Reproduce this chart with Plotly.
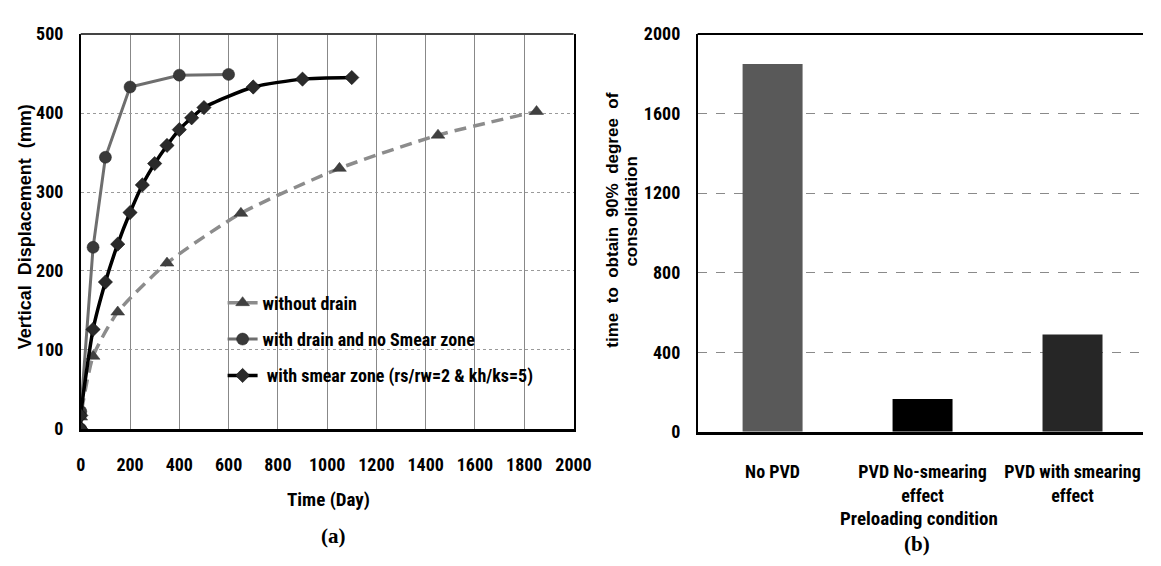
import plotly.graph_objects as go

# ---------------- data: panel (a) ----------------
t_no_drain = [0, 0, 50, 150, 350, 650, 1050, 1450, 1850]
d_no_drain = [0, 15, 92, 148, 210, 273, 330, 372, 402]

t_drain = [0, 0, 50, 100, 200, 400, 600]
d_drain = [0, 22, 230, 344, 433, 448, 449]

t_smear = [0, 0, 50, 100, 150, 200, 250, 300, 350, 400, 450, 500, 700, 900, 1100]
d_smear = [0, 17, 126, 186, 234, 274, 309, 336, 359, 379, 394, 407, 433, 443, 445]

x_ticks_a = list(range(0, 2001, 200))
y_ticks_a = list(range(0, 501, 100))

# ---------------- data: panel (b) ----------------
conditions = ["No PVD", "PVD No-smearing<br>effect", "PVD with smearing<br>effect"]
t90 = [1850, 165, 489]
bar_colors = ["#595959", "#000000", "#262626"]
y_ticks_b = list(range(0, 2001, 400))

W, H = 1161, 566
NARROW = "Liberation Sans Narrow, Arial Narrow, Roboto Condensed, DejaVu Sans Condensed, sans-serif"
ARIAL = "Liberation Sans, Arial, sans-serif"
SERIF = "Liberation Serif, Times New Roman, serif"

def px(x):
    return x / W

def py(y):
    return (H - y) / H

fig = go.Figure()

fig.add_trace(go.Scatter(
    x=t_no_drain, y=d_no_drain, name="without drain", mode="lines+markers",
    line=dict(color="#8c8c8c", width=3.5, dash="12px,7px", shape="spline", smoothing=0.6),
    marker=dict(symbol="triangle-up", size=12, color="#404040", line=dict(color="#303030", width=0.5)),
    xaxis="x", yaxis="y", legendgroup="g1",
))
fig.add_trace(go.Scatter(
    x=t_drain, y=d_drain, name="with drain and no Smear zone", mode="lines+markers",
    line=dict(color="#6e6e6e", width=3),
    marker=dict(symbol="circle", size=12, color="#3a3a3a", line=dict(color="#202020", width=0.5)),
    xaxis="x", yaxis="y", legendgroup="g2",
))
fig.add_trace(go.Scatter(
    x=t_smear, y=d_smear, name=" with smear zone (rs/rw=2 & kh/ks=5)", mode="lines+markers",
    line=dict(color="#000000", width=3.5, shape="spline", smoothing=0.6),
    marker=dict(symbol="diamond", size=11, color="#2a2a2a", line=dict(color="#000000", width=0.5)),
    xaxis="x", yaxis="y", legendgroup="g3",
))

fig.add_trace(go.Bar(
    x=[0, 1, 2], y=t90, width=0.4, marker=dict(color=bar_colors, line=dict(width=0)),
    showlegend=False, xaxis="x2", yaxis="y2",
))

tickfont = dict(family=NARROW, size=18, color="#000000", weight="bold")

fig.update_layout(
    width=W, height=H, autosize=False,
    margin=dict(l=0, r=0, t=0, b=0),
    paper_bgcolor="white", plot_bgcolor="white",
    showlegend=True,
    legend=dict(
        x=px(222), y=py(284), xanchor="left", yanchor="top",
        font=dict(family=NARROW, size=18, color="#000000", weight="bold"),
        bgcolor="rgba(0,0,0,0)", borderwidth=0, tracegroupgap=10,
        itemwidth=30,
    ),
    xaxis=dict(
        domain=[px(77.3), px(580)], range=[0, 2000], tickvals=x_ticks_a,
        showgrid=True, gridcolor="#888888", gridwidth=1, zeroline=False,
        showline=True, linecolor="#000000", linewidth=3, mirror=False,
        ticks="", tickfont=tickfont, ticklabelstandoff=18, anchor="y",
    ),
    yaxis=dict(
        domain=[py(434), py(24)], range=[0, 500], tickvals=y_ticks_a,
        showgrid=True, gridcolor="#9a9a9a", gridwidth=1, griddash="dot", zeroline=False,
        showline=True, linecolor="#000000", linewidth=1.5, mirror=True,
        ticks="", tickfont=tickfont, ticklabelstandoff=12, anchor="x",
    ),
    xaxis2=dict(
        domain=[px(706.6), 1.0], range=[-0.5, 2.47], tickvals=[0, 1, 2], ticktext=conditions,
        showgrid=False, zeroline=False,
        showline=True, linecolor="#000000", linewidth=3,
        ticks="", tickfont=tickfont, ticklabelstandoff=22, anchor="y2",
    ),
    yaxis2=dict(
        domain=[py(437), py(24)], range=[0, 2000], tickvals=y_ticks_b,
        showgrid=True, gridcolor="#8a8a8a", gridwidth=1, griddash="dash", zeroline=False,
        showline=True, linecolor="#000000", linewidth=1.5,
        ticks="", tickfont=tickfont, ticklabelstandoff=12, anchor="x2",
    ),
)

# frame tops
fig.add_shape(type="line", xref="x domain", yref="y domain", x0=0, x1=1, y0=1, y1=1,
              line=dict(color="#444444", width=2))
fig.add_shape(type="line", xref="x2 domain", yref="y2 domain", x0=0, x1=1, y0=1, y1=1,
              line=dict(color="#000000", width=2))

def note(text, x, y, font, angle=0):
    return dict(text=text, x=px(x), y=py(y), xref="paper", yref="paper",
                xanchor="center", yanchor="middle", textangle=angle,
                showarrow=False, font=font)

ann = [
    note("Time (Day)", 330, 507, dict(family=NARROW, size=19, color="#000", weight="bold")),
    note("(a)", 335, 545, dict(family=SERIF, size=21, color="#000", weight="bold")),
    note("Vertical  Displacement  (mm)", 20, 224, dict(family=ARIAL, size=18, color="#000", weight="bold"), -90),
    note("Preloading condition", 932, 527, dict(family=NARROW, size=19, color="#000", weight="bold")),
    note("(b)", 930, 554, dict(family=SERIF, size=21, color="#000", weight="bold")),
    note("time  to  obtain  90%  degree  of", 620, 217, dict(family=ARIAL, size=17, color="#000", weight="bold"), -90),
    note("consolidation", 639, 208, dict(family=ARIAL, size=17, color="#000", weight="bold"), -90),
]
fig.update_layout(annotations=ann)

fig.write_html("out.html")
